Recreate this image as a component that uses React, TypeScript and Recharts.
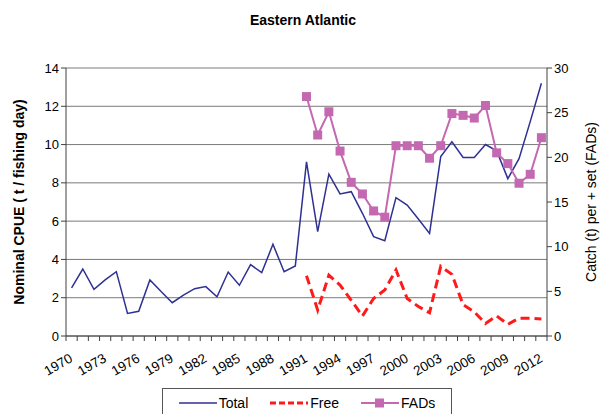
import React from 'react'
import { ComposedChart, Line, XAxis, YAxis, CartesianGrid } from 'recharts'

const years = Array.from({ length: 43 }, (_, i) => 1970 + i)

// Nominal CPUE (t / fishing day), left axis
const total = [
  2.51, 3.5, 2.44, 2.93, 3.36, 1.18, 1.29, 2.93, 2.32, 1.74,
  2.14, 2.47, 2.58, 2.05, 3.34, 2.65, 3.73, 3.31, 4.79, 3.36,
  3.66, 9.1, 5.45, 8.46, 7.42, 7.54, 6.41, 5.19, 4.98, 7.23,
  6.84, 6.11, 5.36, 9.37, 10.15, 9.33, 9.33, 10.0, 9.67, 8.22,
  9.26, 11.2, 13.2,
]

// catch per set, right axis (from 1991)
const freeYears = [1991, 1992, 1993, 1994, 1995, 1996, 1997, 1998, 1999, 2000, 2001, 2002, 2003, 2004, 2005, 2006, 2007, 2008, 2009, 2010, 2011, 2012]
const free = [6.75, 2.9, 6.8, 5.7, 4.0, 2.24, 4.2, 5.15, 7.4, 4.2, 3.3, 2.6, 7.8, 6.9, 3.5, 2.7, 1.4, 2.24, 1.3, 2.0, 2.0, 1.9]
const fads = [26.8, 22.5, 25.1, 20.7, 17.2, 15.9, 14.0, 13.3, 21.3, 21.3, 21.3, 19.9, 21.3, 24.9, 24.7, 24.4, 25.8, 20.5, 19.3, 17.1, 18.1, 22.2]

const leftTicks = [0, 2, 4, 6, 8, 10, 12, 14]
const rightTicks = [0, 5, 10, 15, 20, 25, 30]
const labelYears = [1970, 1973, 1976, 1979, 1982, 1985, 1988, 1991, 1994, 1997, 2000, 2003, 2006, 2009, 2012]
const boundaryTicks = Array.from({ length: 44 }, (_, i) => 1969.5 + i)

const data = years.map((year, i) => {
  const j = freeYears.indexOf(year)
  return {
    year,
    total: total[i],
    free: j >= 0 ? free[j] : null,
    fads: j >= 0 ? fads[j] : null,
  }
})

const FONT = '"Liberation Sans", Arial, sans-serif'
const AXIS = '#404040'
const BAND = 481 / 43

// ticks sit on year boundaries, labels on the year itself
const YearTick = (props: any) => {
  const { x, y, payload } = props
  const yr = payload.value + 0.5
  if (!labelYears.includes(yr)) return null
  const lx = x + BAND / 2 + 2
  const ly = y + 18
  return (
    <text x={lx} y={ly} transform={`rotate(-30, ${lx}, ${ly})`} textAnchor="end" fontSize={13.5} fontFamily={FONT} fill="#000">
      {yr}
    </text>
  )
}

const Square = (props: any) => {
  const { cx, cy } = props
  if (cx == null || cy == null) return null
  return <rect x={cx - 4.5} y={cy - 4.5} width={9} height={9} fill="#c469b1" />
}

const RightTitle = (props: any) => {
  const vb = props.viewBox || {}
  const cx = 596
  const cy = vb.y + vb.height / 2
  return (
    <text x={cx} y={cy} transform={`rotate(-90, ${cx}, ${cy})`} textAnchor="middle" fontSize={14} fontFamily={FONT} fill="#000">
      Catch (t) per + set (FADs)
    </text>
  )
}

const LeftTitle = (props: any) => {
  const vb = props.viewBox || {}
  const cx = 24
  const cy = vb.y + vb.height / 2
  return (
    <text x={cx} y={cy} transform={`rotate(-90, ${cx}, ${cy})`} textAnchor="middle" fontSize={14} fontWeight="bold" fontFamily={FONT} fill="#000">
      Nominal CPUE ( t / fishing day)
    </text>
  )
}

export default function App() {
  return (
    <div style={{ position: 'absolute', left: 0, top: 0, width: 606, height: 414, background: '#fff', fontFamily: FONT }}>
      <div style={{ position: 'absolute', top: 12, width: 606, textAlign: 'center', fontSize: 14, fontWeight: 'bold' }}>
        Eastern Atlantic
      </div>
      <ComposedChart width={606} height={414} data={data} margin={{ top: 68, right: 0, bottom: 0, left: 0 }}>
        <CartesianGrid yAxisId="left" vertical={false} stroke="#7a7a7a" strokeWidth={1} />
        <XAxis
          dataKey="year"
          type="number"
          domain={[1969.5, 2012.5]}
          ticks={boundaryTicks}
          tick={<YearTick />}
          interval={0}
          tickSize={5}
          stroke={AXIS}
          height={78}
          allowDataOverflow
        />
        <YAxis
          yAxisId="left"
          domain={[0, 14]}
          ticks={leftTicks}
          width={66}
          stroke={AXIS}
          tickSize={5}
          tick={{ fontSize: 13, fill: '#000', fontFamily: FONT }}
          label={<LeftTitle />}
        />
        <YAxis
          yAxisId="right"
          orientation="right"
          domain={[0, 30]}
          ticks={rightTicks}
          width={59}
          stroke={AXIS}
          tickSize={5}
          tick={{ fontSize: 13, fill: '#000', fontFamily: FONT }}
          label={<RightTitle />}
        />
        <Line yAxisId="left" dataKey="total" stroke="#2e3192" strokeWidth={1.5} dot={false} isAnimationActive={false} />
        <Line yAxisId="right" dataKey="free" stroke="#ff1a1a" strokeWidth={3} strokeDasharray="9 5" dot={false} connectNulls={false} isAnimationActive={false} />
        <Line yAxisId="right" dataKey="fads" stroke="#c469b1" strokeWidth={2} dot={<Square />} connectNulls={false} isAnimationActive={false} />
      </ComposedChart>
      <div style={{ position: 'absolute', left: 162, top: 388, width: 290, height: 30, border: '1px solid #555', boxSizing: 'border-box', display: 'flex', alignItems: 'center', justifyContent: 'center', fontSize: 14, gap: 22 }}>
        <span style={{ display: 'flex', alignItems: 'center' }}>
          <svg width={40} height={10}><line x1={0} y1={5} x2={38} y2={5} stroke="#2e3192" strokeWidth={1.5} /></svg>Total
        </span>
        <span style={{ display: 'flex', alignItems: 'center' }}>
          <svg width={40} height={10}><line x1={0} y1={5} x2={38} y2={5} stroke="#ff1a1a" strokeWidth={3} strokeDasharray="6 3" /></svg>Free
        </span>
        <span style={{ display: 'flex', alignItems: 'center' }}>
          <svg width={40} height={10}><line x1={0} y1={5} x2={38} y2={5} stroke="#c469b1" strokeWidth={2} /><rect x={14} y={0.5} width={9} height={9} fill="#c469b1" /></svg>FADs
        </span>
      </div>
    </div>
  )
}
